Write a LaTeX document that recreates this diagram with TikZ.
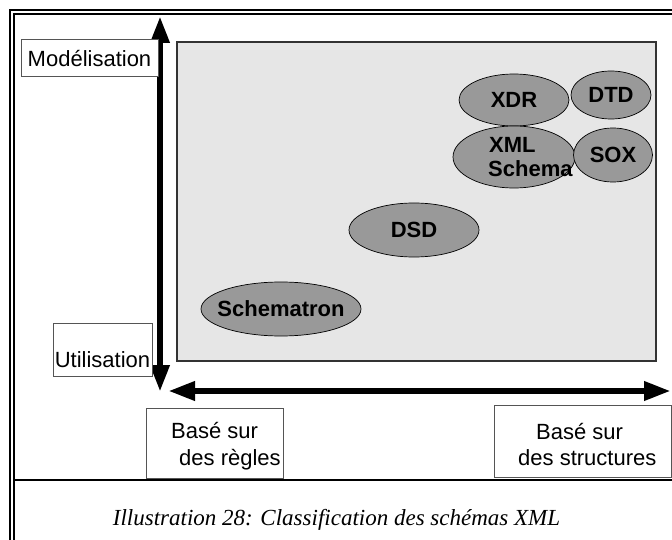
\documentclass[tikz,border=0pt]{standalone}
\usepackage{fontspec}
\setmainfont{Liberation Sans}
\newfontfamily\capfont{Liberation Serif}
\usetikzlibrary{shapes.geometric,arrows.meta}

\definecolor{panelgray}{HTML}{E6E6E6}
\definecolor{blobgray}{HTML}{999999}
\definecolor{edgegray}{HTML}{555555}

\tikzset{
  frameouter/.style={line width=2.2pt, black},
  frameinner/.style={line width=1.2pt, black},
  panel/.style={rectangle, draw=black!80, line width=1.1pt, fill=panelgray,
                inner sep=0pt, outer sep=0pt},
  % the label is boxed with zero width so the ellipse keeps its given size
  blob/.style={ellipse, draw=black, line width=0.7pt, fill=blobgray, inner sep=0pt,
               font=\fontsize{22}{26}\selectfont\bfseries,
               execute at begin node={\hbox to 0pt\bgroup\hss},
               execute at end node={\hss\egroup}},
  blobtext/.style={inner sep=0pt, anchor=base west, font=\fontsize{22}{26}\selectfont\bfseries},
  tagbox/.style={rectangle, draw=edgegray, line width=0.8pt, fill=white,
                 inner sep=0pt, outer sep=0pt},
  tagtext/.style={inner sep=0pt, font=\fontsize{22}{26}\selectfont},
  axis/.style={line width=6.5pt, black,
               {Triangle[length=27pt,width=18pt]}-{Triangle[length=27pt,width=18pt]}},
  caption/.style={inner sep=0pt, anchor=base, font=\fontsize{23}{27}\selectfont\capfont\itshape}
}

\begin{document}
\begin{tikzpicture}[x=1pt,y=-1pt]
\useasboundingbox (0,0) rectangle (672,540);

% double frame and caption rule
\draw[frameouter] (10,540) -- (10,10) -- (672,10);
\draw[frameinner] (14,540) -- (14,14) -- (672,14);
\draw[line width=2pt] (14,480) -- (672,480);

% shaded area holding the schema languages
\node[panel, minimum width=479pt, minimum height=319pt] (area) at (416.5,201.5) {};

% schema languages
\node[blob, minimum width=110pt, minimum height=52pt] (xdr) at (514,100) {XDR};
\node[blob, minimum width=80pt, minimum height=48pt] (dtd) at (611,95) {DTD};
\node[blob, minimum width=122pt, minimum height=62pt] (xmls) at (514,157) {};
\node[blob, minimum width=79pt, minimum height=54pt] (sox) at (613,155) {SOX};
\node[blob, minimum width=130pt, minimum height=54pt] (dsd) at (414,230) {DSD};
\node[blob, minimum width=160pt, minimum height=54pt] (schematron) at (281,309) {Schematron};
\node[blobtext] (xmlsa) at (489,153) {XML};
\node[blobtext] (xmlsb) at (488,177) {Schema};

% axes
\coordinate (ytop) at (160,16);
\coordinate (ybot) at (160,392);
\coordinate (xleft) at (168,391);
\coordinate (xright) at (671,391);
\draw[axis] (ybot) -- (ytop);
\draw[axis] (xleft) -- (xright);

% axis labels
\node[tagbox, minimum width=137pt, minimum height=37pt] (modbox) at (89.5,57.5) {};
\node[tagtext, anchor=base] (modtext) at (89.5,67) {Modélisation};

\node[tagbox, minimum width=99pt, minimum height=53pt] (utilbox) at (102.5,349.5) {};
\node[tagtext, anchor=base] (utiltext) at (102.5,367) {Utilisation};

\node[tagbox, minimum width=137pt, minimum height=70pt] (regbox) at (214.5,443) {};
\node[tagtext, anchor=base west] (regtexta) at (171,438) {Basé sur};
\node[tagtext, anchor=base west] (regtextb) at (179,465) {des règles};

\node[tagbox, minimum width=177pt, minimum height=72pt] (strbox) at (582.5,441) {};
\node[tagtext, anchor=base west] (strtexta) at (536,439) {Basé sur};
\node[tagtext, anchor=base west] (strtextb) at (518,465) {des structures};

% caption
\node[caption] (cap) at (336.5,525) {Illustration 28: Classification des schémas XML};
\end{tikzpicture}
\end{document}
